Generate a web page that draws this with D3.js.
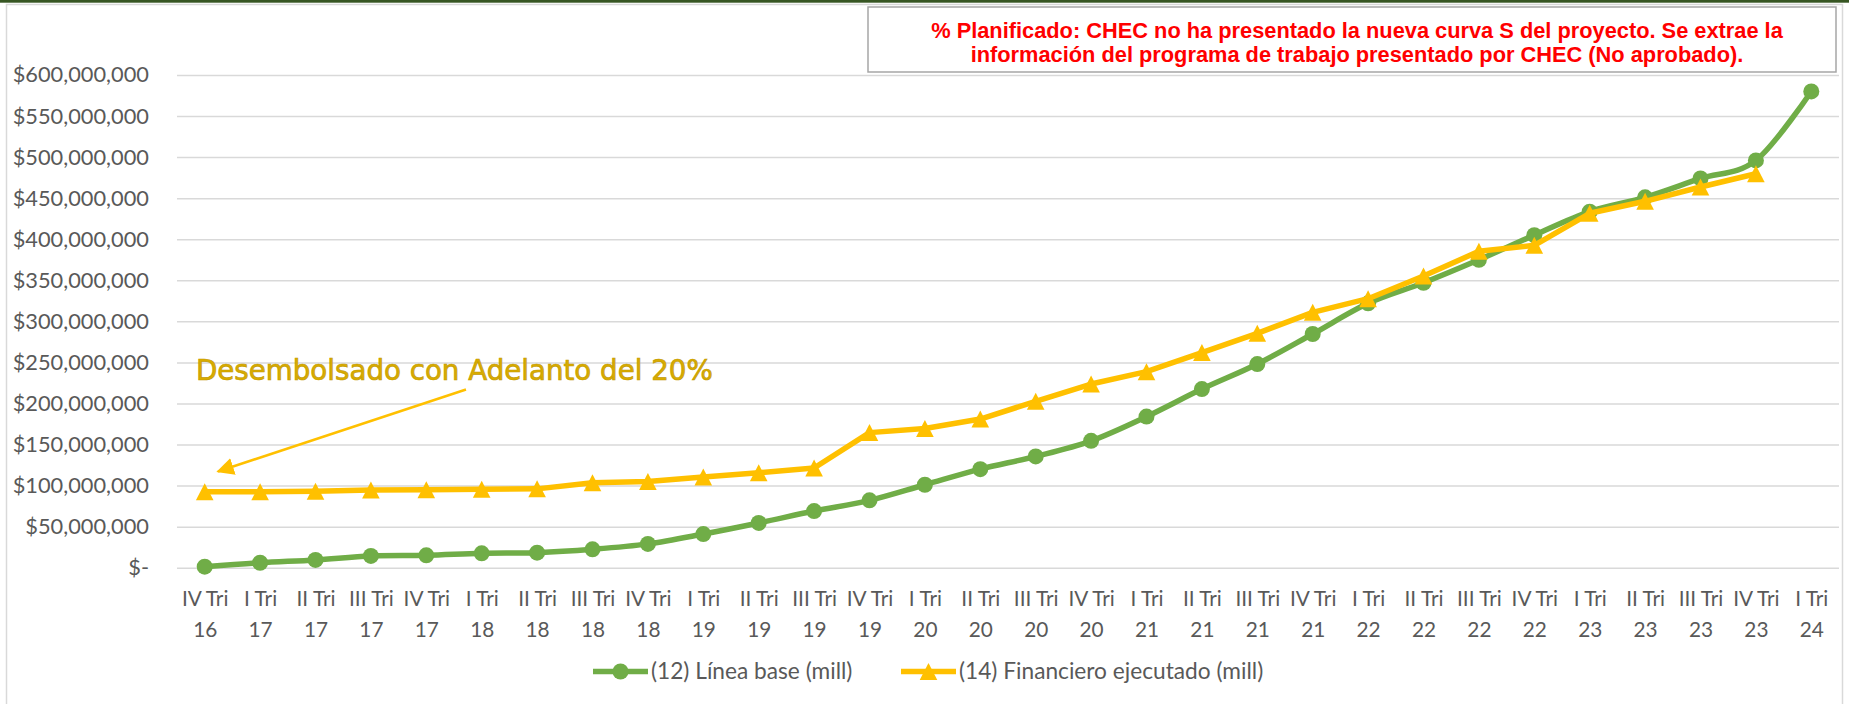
<!DOCTYPE html>
<html>
<head>
<meta charset="utf-8">
<script src="https://cdn.jsdelivr.net/npm/d3@7"></script>
<style>
  html, body { margin: 0; padding: 0; background: #fff; }
  svg { display: block; }
</style>
</head>
<body>
<div id="chart"></div>
<script>
// trimestres (eje X)
var categorias = [
  "IV Tri 16",
  "I Tri 17", "II Tri 17", "III Tri 17", "IV Tri 17",
  "I Tri 18", "II Tri 18", "III Tri 18", "IV Tri 18",
  "I Tri 19", "II Tri 19", "III Tri 19", "IV Tri 19",
  "I Tri 20", "II Tri 20", "III Tri 20", "IV Tri 20",
  "I Tri 21", "II Tri 21", "III Tri 21", "IV Tri 21",
  "I Tri 22", "II Tri 22", "III Tri 22", "IV Tri 22",
  "I Tri 23", "II Tri 23", "III Tri 23", "IV Tri 23",
  "I Tri 24"
];

// (12) Linea base, millones
var lineaBase = [
  1.2, 6, 9.5, 14.3, 15.1, 17.5, 18.3, 22.4, 29, 41, 54.5, 69, 82,
  101, 120, 135.5, 154.5, 184, 217.5, 248, 284.6,
  322, 347, 375, 405, 433.6, 451, 474, 496, 580
];

// (14) Financiero ejecutado, millones (sin dato para I Tri 24)
var financiero = [
  92.5, 92.5, 93, 94.6, 94.8, 95.5, 96, 103.5, 105, 110.4, 115.7, 121.4, 164.5,
  169.5, 181, 202.6, 223.7, 238.7, 262, 285.4, 311,
  327.6, 355.2, 385.3, 392.6, 431.6, 446.2, 463.6, 479.8
];

var yTicks = [0, 50, 100, 150, 200, 250, 300, 350, 400, 450, 500, 550, 600];

var nota = [
  "% Planificado: CHEC no ha presentado la nueva curva S del proyecto. Se extrae la",
  "información del programa de trabajo presentado por CHEC (No aprobado)."
];
var anotacion = "Desembolsado con Adelanto del 20%";

var width = 1849, height = 704;
var plotLeft = 177, plotRight = 1839, plotTop = 75, plotBottom = 567.7;
var verde = "#70AD47", amarillo = "#FFC000";
var fontEje = "Lato, 'Open Sans', sans-serif";

var svg = d3.select("#chart").append("svg")
  .attr("width", width)
  .attr("height", height);

// marco del grafico
svg.append("rect")
  .attr("x", 0).attr("y", 0).attr("width", width).attr("height", 2.7)
  .attr("fill", "#375623");
svg.append("rect")
  .attr("x", 6.5).attr("y", 4.5).attr("width", 1836).attr("height", 760)
  .attr("fill", "none").attr("stroke", "#D9D9D9").attr("stroke-width", 1.5);

var x = d3.scalePoint()
  .domain(categorias)
  .range([plotLeft, plotRight])
  .padding(0.5);

var y = d3.scaleLinear()
  .domain([0, 600])
  .range([plotBottom, plotTop]);

var fmt = d3.format(",");
function dinero(v) {
  return v === 0 ? "$-" : "$" + fmt(v * 1e6);
}

// eje Y con lineas de cuadricula
var yAxis = svg.append("g")
  .attr("transform", "translate(" + plotLeft + ",0)")
  .call(d3.axisLeft(y)
    .tickValues(yTicks)
    .tickSizeInner(-(plotRight - plotLeft))
    .tickSizeOuter(0)
    .tickPadding(28)
    .tickFormat(dinero));
yAxis.select(".domain").remove();
yAxis.selectAll(".tick line")
  .attr("stroke", "#D9D9D9")
  .attr("stroke-width", 1.5);
yAxis.selectAll(".tick text")
  .attr("fill", "#595959")
  .style("font-family", fontEje)
  .style("font-size", "21.8px");

// eje X, etiquetas en dos lineas
var xAxis = svg.append("g")
  .attr("transform", "translate(0," + plotBottom + ")")
  .call(d3.axisBottom(x).tickSize(0).tickFormat(""));
xAxis.select(".domain").remove();
xAxis.selectAll(".tick").each(function(d) {
  var i = d.lastIndexOf(" ");
  var t = d3.select(this).append("text")
    .attr("fill", "#595959")
    .attr("text-anchor", "middle")
    .style("font-family", fontEje)
    .style("font-size", "20.8px");
  t.append("tspan").attr("x", 0).attr("y", 38.5).text(d.slice(0, i));
  t.append("tspan").attr("x", 0).attr("y", 69.5).text(d.slice(i + 1));
});

// series
var lineaVerde = d3.line()
  .x(function(d, i) { return x(categorias[i]); })
  .y(function(d) { return y(d); })
  .curve(d3.curveCardinal);

var lineaAmarilla = d3.line()
  .x(function(d, i) { return x(categorias[i]); })
  .y(function(d) { return y(d); });

svg.append("path")
  .datum(lineaBase)
  .attr("d", lineaVerde)
  .attr("fill", "none")
  .attr("stroke", verde)
  .attr("stroke-width", 5.5)
  .attr("stroke-linejoin", "round");

svg.selectAll("circle.base")
  .data(lineaBase)
  .enter().append("circle")
  .attr("class", "base")
  .attr("cx", function(d, i) { return x(categorias[i]); })
  .attr("cy", function(d) { return y(d); })
  .attr("r", 8)
  .attr("fill", verde);

svg.append("path")
  .datum(financiero)
  .attr("d", lineaAmarilla)
  .attr("fill", "none")
  .attr("stroke", amarillo)
  .attr("stroke-width", 5.5)
  .attr("stroke-linejoin", "round");

var triangulo = "M0,-8.5L8.8,8.5L-8.8,8.5Z";
svg.selectAll("path.fin")
  .data(financiero)
  .enter().append("path")
  .attr("class", "fin")
  .attr("d", triangulo)
  .attr("transform", function(d, i) {
    return "translate(" + x(categorias[i]) + "," + y(d) + ")";
  })
  .attr("fill", amarillo);

// cuadro de nota en rojo
svg.append("rect")
  .attr("x", 868).attr("y", 7).attr("width", 968).attr("height", 65)
  .attr("fill", "#fff").attr("stroke", "#A6A6A6").attr("stroke-width", 1.5);
svg.append("text")
  .attr("text-anchor", "middle")
  .attr("fill", "#FF0000")
  .style("font-family", "'Liberation Sans', Arial, sans-serif")
  .style("font-weight", "bold")
  .style("font-size", "21.8px")
  .selectAll("tspan")
  .data(nota)
  .enter().append("tspan")
  .attr("x", 1357)
  .attr("y", function(d, i) { return 37.5 + i * 24; })
  .text(function(d) { return d; });

// anotacion del adelanto
svg.append("defs").append("marker")
  .attr("id", "punta")
  .attr("viewBox", "0 0 10 10")
  .attr("refX", 9).attr("refY", 5)
  .attr("markerWidth", 7).attr("markerHeight", 7)
  .attr("markerUnits", "strokeWidth")
  .attr("orient", "auto")
  .append("path")
  .attr("d", "M0,0L10,5L0,10Z")
  .attr("fill", amarillo);

svg.append("line")
  .attr("x1", 466).attr("y1", 389.5)
  .attr("x2", 218).attr("y2", 471.5)
  .attr("stroke", amarillo)
  .attr("stroke-width", 2.5)
  .attr("marker-end", "url(#punta)");

svg.append("text")
  .attr("x", 196).attr("y", 380)
  .attr("fill", "#D9AC00")
  .attr("stroke", "#C49A00")
  .attr("stroke-width", 0.7)
  .style("font-family", "'DejaVu Sans', sans-serif")
  .style("font-size", "27.7px")
  .text(anotacion);

// leyenda
var leyenda = [
  { nombre: "(12) Línea base (mill)", color: verde, forma: "circulo", x0: 593 },
  { nombre: "(14) Financiero ejecutado (mill)", color: amarillo, forma: "triangulo", x0: 901 }
];
var ly = 671.5;
var items = svg.selectAll("g.leyenda")
  .data(leyenda)
  .enter().append("g")
  .attr("class", "leyenda")
  .attr("transform", function(d) { return "translate(" + d.x0 + "," + ly + ")"; });

items.append("line")
  .attr("x1", 0).attr("x2", 55)
  .attr("stroke", function(d) { return d.color; })
  .attr("stroke-width", 5.5);
items.each(function(d) {
  var g = d3.select(this);
  if (d.forma === "circulo") {
    g.append("circle").attr("cx", 27.5).attr("r", 8).attr("fill", d.color);
  } else {
    g.append("path").attr("d", triangulo)
      .attr("transform", "translate(27.5,0)")
      .attr("fill", d.color);
  }
});
items.append("text")
  .attr("x", 58)
  .attr("dy", "0.35em")
  .attr("fill", "#595959")
  .style("font-family", fontEje)
  .style("font-size", "22.7px")
  .text(function(d) { return d.nombre; });
</script>
</body>
</html>
